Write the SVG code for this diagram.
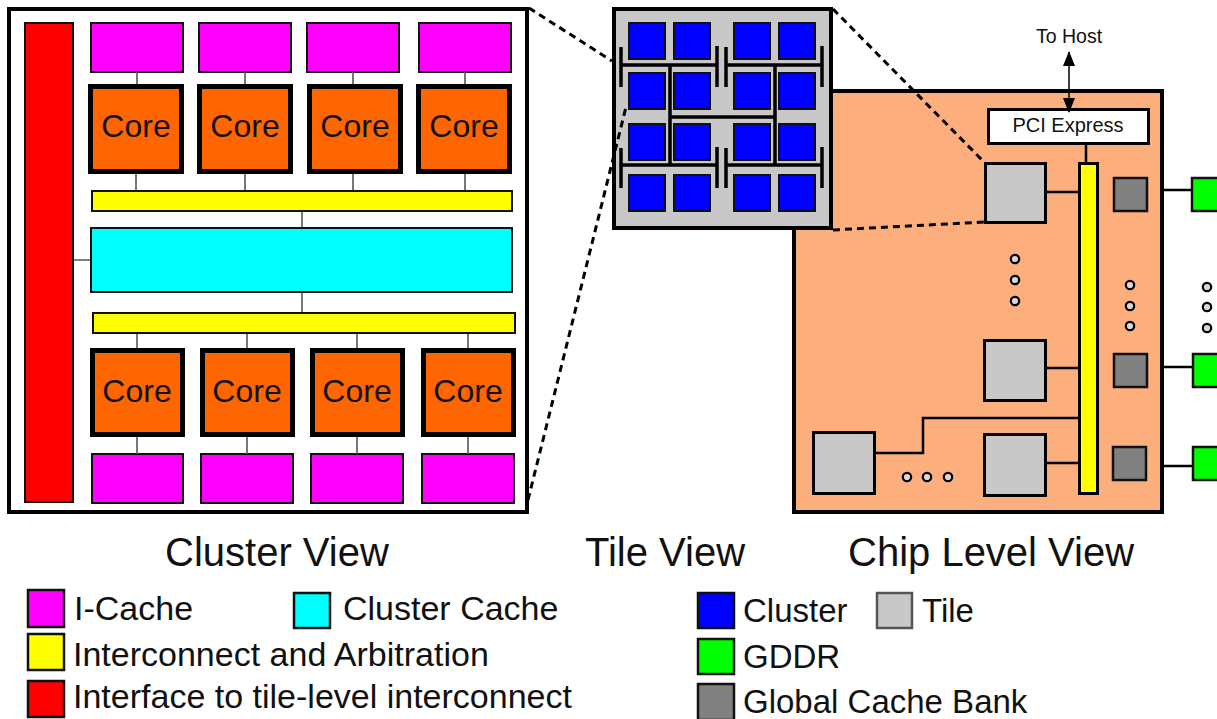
<svg xmlns="http://www.w3.org/2000/svg" width="1217" height="719" viewBox="0 0 1217 719">
<style>
text{font-family:"Liberation Sans",Arial,sans-serif;fill:#111}
.ic{fill:#FF00FF;stroke:#111;stroke-width:2}
.core{fill:#FF6600;stroke:#000;stroke-width:5}
.yel{fill:#FFFF00;stroke:#111;stroke-width:2}
.cyan{fill:#00FFFF;stroke:#111;stroke-width:2}
.red{fill:#FF0000;stroke:#111;stroke-width:2}
.thin{stroke:#555;stroke-width:1.6;fill:none}
.blk{stroke:#000;stroke-width:2.5;fill:none}
.bus{stroke:#000;stroke-width:3.5;fill:none}
.clu{fill:#0000FF;stroke:#111;stroke-width:2}
.tile{fill:#C8C8C8;stroke:#000;stroke-width:3}
.gcb{fill:#808080;stroke:#111;stroke-width:2.5}
.gddr{fill:#00FF00;stroke:#111;stroke-width:2.5}
.dot{fill:#D8D8D8;stroke:#000;stroke-width:2.2}
.dash{stroke:#000;stroke-width:3;stroke-dasharray:7 5;fill:none}
.coret{font-size:32px;text-anchor:middle}
.title{font-size:40px}
.leg{font-size:34px}
.legr{font-size:33px}
.lsq{stroke:#111;stroke-width:2.5}
</style>
<defs>
<marker id="ah" viewBox="0 0 16 12" refX="14" refY="6" markerWidth="16" markerHeight="12" markerUnits="userSpaceOnUse" orient="auto-start-reverse">
<path d="M0 0 L15 6 L0 12 Z" fill="#000"/>
</marker>
</defs>

<!-- Cluster View -->
<g id="cluster-view">
<rect x="9" y="9" width="518" height="503" fill="#fff" stroke="#000" stroke-width="4"/>
<rect id="tile-iface" class="red" x="25" y="23" width="48" height="479"/>
<g id="icache-top">
<rect class="ic" x="91" y="23" width="92" height="49"/>
<rect class="ic" x="199" y="23" width="92" height="49"/>
<rect class="ic" x="307" y="23" width="92" height="49"/>
<rect class="ic" x="419" y="23" width="92" height="49"/>
</g>
<g id="cores-top">
<rect class="core" x="90.5" y="86.5" width="91" height="85"/>
<rect class="core" x="199.5" y="86.5" width="91" height="85"/>
<rect class="core" x="309.5" y="86.5" width="91" height="85"/>
<rect class="core" x="418.5" y="86.5" width="91" height="85"/>
<text class="coret" x="136" y="137">Core</text>
<text class="coret" x="245" y="137">Core</text>
<text class="coret" x="355" y="137">Core</text>
<text class="coret" x="464" y="137">Core</text>
</g>
<rect id="arb-top" class="yel" x="92" y="191" width="420" height="20"/>
<rect id="cluster-cache" class="cyan" x="91" y="228" width="421" height="64"/>
<rect id="arb-bottom" class="yel" x="93" y="313" width="422" height="20"/>
<g id="cores-bottom">
<rect class="core" x="92.5" y="350.5" width="90" height="84"/>
<rect class="core" x="202.5" y="350.5" width="90" height="84"/>
<rect class="core" x="312.5" y="350.5" width="90" height="84"/>
<rect class="core" x="423.5" y="350.5" width="90" height="84"/>
<text class="coret" x="137" y="402">Core</text>
<text class="coret" x="247" y="402">Core</text>
<text class="coret" x="357" y="402">Core</text>
<text class="coret" x="468" y="402">Core</text>
</g>
<g id="icache-bottom">
<rect class="ic" x="92" y="454" width="91" height="49"/>
<rect class="ic" x="201" y="454" width="92" height="49"/>
<rect class="ic" x="311" y="454" width="92" height="49"/>
<rect class="ic" x="422" y="454" width="92" height="49"/>
</g>
</g>

<g id="cluster-connectors">
<path class="thin" d="M137 72V84M245 72V84M353 72V84M465 72V84M136 174V190M245 174V190M353 174V190M465 174V190M302 212V227M302 293V312M74 260H90M137 334V348M247 334V348M357 334V348M468 334V348M137 437V454M247 437V454M357 437V454M468 437V454"/>
</g>

<!-- Chip Level View -->
<g id="chip">
<rect x="794" y="91" width="368" height="421" fill="#FDAE7D" stroke="#000" stroke-width="4"/>
</g>
<g id="pci-express">
<rect x="988.5" y="109.5" width="160" height="34" fill="#fff" stroke="#000" stroke-width="3"/>
<text x="1068" y="132" font-size="20" text-anchor="middle">PCI Express</text>
</g>
<text id="to-host" x="1069" y="43" font-size="19.5" text-anchor="middle">To Host</text>
<rect id="chip-bus" x="1079.5" y="163.5" width="18" height="330" fill="#FFFF00" stroke="#000" stroke-width="3"/>
<g id="chip-tiles">
<rect id="tile-a" class="tile" x="985.5" y="163.5" width="60" height="59"/>
<rect id="tile-b" class="tile" x="984.5" y="340.5" width="61" height="60"/>
<rect id="tile-c" class="tile" x="984.5" y="434.5" width="61" height="61"/>
<rect id="tile-d" class="tile" x="813.5" y="432.5" width="61" height="61"/>
</g>
<g id="cache-banks">
<rect class="gcb" x="1114" y="178" width="33" height="33"/>
<rect class="gcb" x="1114" y="354" width="33" height="33"/>
<rect class="gcb" x="1113" y="447" width="33" height="33"/>
</g>
<g id="gddr">
<rect class="gddr" x="1192" y="178" width="40" height="33"/>
<rect class="gddr" x="1193" y="354" width="40" height="33"/>
<rect class="gddr" x="1193" y="447" width="40" height="33"/>
</g>
<g id="ellipses">
<circle class="dot" cx="1015" cy="259" r="4.2"/>
<circle class="dot" cx="1015" cy="280" r="4.2"/>
<circle class="dot" cx="1015" cy="301" r="4.2"/>
<circle class="dot" cx="1130" cy="285" r="4.2"/>
<circle class="dot" cx="1130" cy="306" r="4.2"/>
<circle class="dot" cx="1130" cy="326" r="4.2"/>
<circle class="dot" cx="1207" cy="287" r="4.2"/>
<circle class="dot" cx="1207" cy="307" r="4.2"/>
<circle class="dot" cx="1207" cy="328" r="4.2"/>
<circle class="dot" cx="907" cy="477" r="4.2"/>
<circle class="dot" cx="927" cy="477" r="4.2"/>
<circle class="dot" cx="948" cy="477" r="4.2"/>
</g>

<!-- Tile View -->
<g id="tile-view">
<rect x="614" y="9" width="217" height="219" fill="#C8C8C8" stroke="#000" stroke-width="4"/>
<rect class="clu" x="629" y="23" width="36" height="36"/>
<rect class="clu" x="674" y="23" width="36" height="36"/>
<rect class="clu" x="734" y="23" width="36" height="36"/>
<rect class="clu" x="779" y="23" width="36" height="36"/>
<rect class="clu" x="629" y="73" width="36" height="36"/>
<rect class="clu" x="674" y="73" width="36" height="36"/>
<rect class="clu" x="734" y="73" width="36" height="36"/>
<rect class="clu" x="779" y="73" width="36" height="36"/>
<rect class="clu" x="629" y="124" width="36" height="36"/>
<rect class="clu" x="674" y="124" width="36" height="36"/>
<rect class="clu" x="734" y="124" width="36" height="36"/>
<rect class="clu" x="779" y="124" width="36" height="36"/>
<rect class="clu" x="629" y="175" width="36" height="36"/>
<rect class="clu" x="674" y="175" width="36" height="36"/>
<rect class="clu" x="734" y="175" width="36" height="36"/>
<rect class="clu" x="779" y="175" width="36" height="36"/>
<path class="bus" d="M621 47V87M621 65H717M717 46V87M726 47V87M726 65H822M822 46V87M621 148V188M621 165H717M717 147V188M726 148V188M726 165H822M822 147V188M670 65V165M775 65V165M670 117H775"/>
</g>

<g id="connectors">
<path class="blk" d="M1086 145V162M1047 192H1078M1047 368H1078M1047 463H1078M876 453H923V418H1078M1162 190H1191M1162 367H1192M1162 466H1192"/>
<path d="M1069 52V112" stroke="#000" stroke-width="1.5" marker-start="url(#ah)" marker-end="url(#ah)"/>
<path class="dash" d="M529 8L612 61M528 500L626 107M833 9L984 162M833 230L984 222"/>
</g>

<!-- Titles -->
<text class="title" x="165" y="566">Cluster View</text>
<text class="title" x="585" y="566">Tile View</text>
<text class="title" x="848" y="566">Chip Level View</text>

<!-- Legend -->
<g id="legend">
<rect class="lsq" x="28" y="590" width="36" height="37" fill="#FF00FF"/>
<text class="leg" x="74" y="620">I-Cache</text>
<rect class="lsq" x="294" y="593" width="36" height="35" fill="#00FFFF"/>
<text class="leg" x="343" y="620">Cluster Cache</text>
<rect class="lsq" x="28" y="634" width="36" height="36" fill="#FFFF00"/>
<text class="leg" x="73" y="666">Interconnect and Arbitration</text>
<rect class="lsq" x="28" y="681" width="36" height="36" fill="#FF0000"/>
<text class="leg" x="73" y="708">Interface to tile-level interconnect</text>
<rect class="lsq" x="698" y="593" width="36" height="35" fill="#0000FF"/>
<text class="legr" x="743" y="622">Cluster</text>
<rect x="877" y="593" width="35" height="35" fill="#C8C8C8" stroke="#555" stroke-width="2.5"/>
<text class="legr" x="922" y="622">Tile</text>
<rect class="lsq" x="698" y="639" width="36" height="35" fill="#00FF00"/>
<text class="legr" x="743" y="668">GDDR</text>
<rect class="lsq" x="698" y="684" width="36" height="36" fill="#808080"/>
<text class="legr" x="743" y="713">Global Cache Bank</text>
</g>
</svg>
